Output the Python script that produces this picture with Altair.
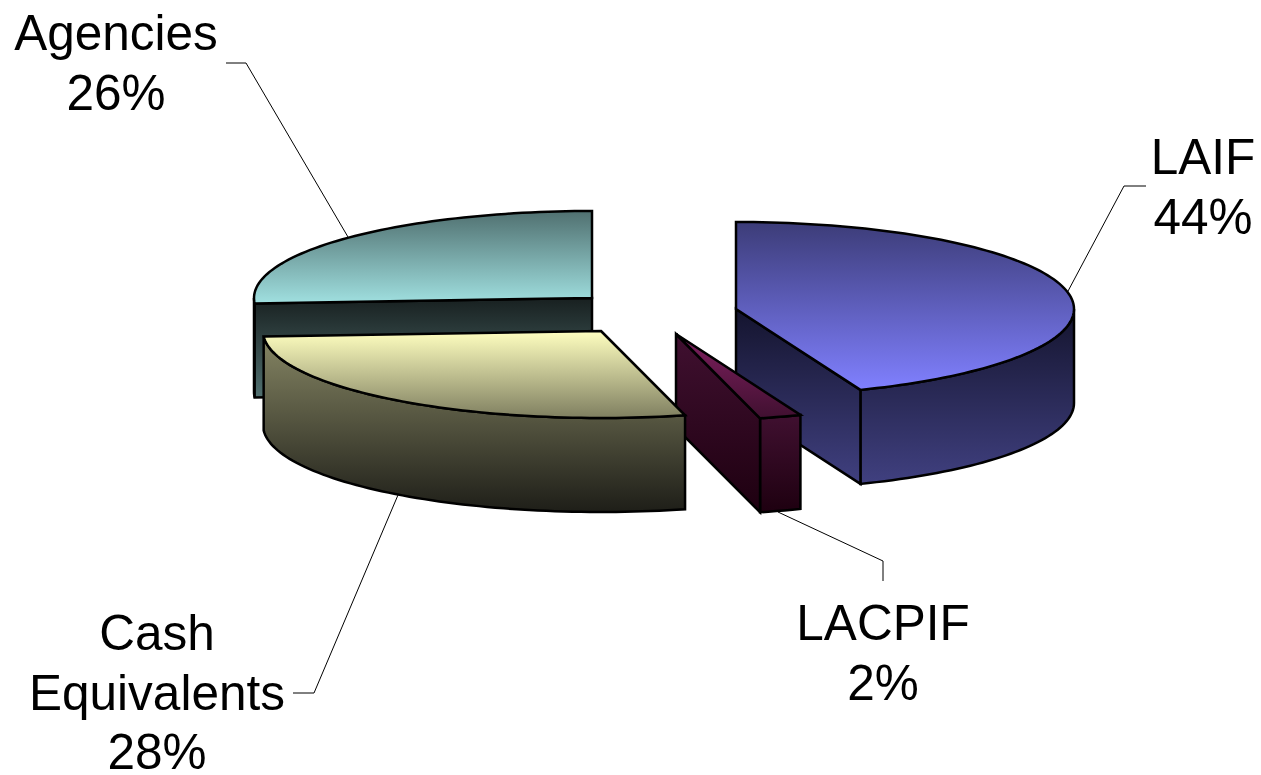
import math
import altair as alt
import pandas as pd

# Portfolio composition, in drawing order (back to front comes from DRAW_ORDER)
categories = ["LAIF", "LACPIF", "Cash Equivalents", "Agencies"]
shares = [44, 2, 28, 26]
label_lines = [["LAIF"], ["LACPIF"], ["Cash", "Equivalents"], ["Agencies"]]

# Pixel canvas and the squashed-ellipse projection of the pie
W, H = 1261, 775
RX, RY, DEPTH = 338, 87, 94
CENTRES = {
    "LAIF": (736, 309),
    "LACPIF": (676, 334),
    "Cash Equivalents": (601, 331),
    "Agencies": (592, 298),
}
DRAW_ORDER = ["Agencies", "LAIF", "LACPIF", "Cash Equivalents"]

# (top, top-lower, side-upper, side-lower) shading of each slice
SHADES = {
    "LAIF": ("#3c3c78", "#8080ff", "#14142e", "#404080"),
    "LACPIF": ("#802060", "#401030", "#401030", "#1e0010"),
    "Cash Equivalents": ("#ffffc0", "#7f7f60", "#868664", "#1e1e18"),
    "Agencies": ("#507070", "#a0e0e0", "#182020", "#507070"),
}

# Text blocks: centre x and first baseline
LABEL_POS = {
    "LAIF": (1203, 174),
    "LACPIF": (883, 640),
    "Cash Equivalents": (157, 650),
    "Agencies": (116, 50),
}
LINE_STEP = 59.7
FONT_SIZE = 49.5

# Leader lines between labels and slices
LEADERS = {
    "LAIF": [(1146, 186), (1124, 186), (1067, 293)],
    "LACPIF": [(883, 581), (883, 561), (778, 512)],
    "Cash Equivalents": [(293, 693), (314, 693), (398, 495)],
    "Agencies": [(226, 63), (246, 63), (348, 237)],
}

x_scale = alt.Scale(domain=[0, W], range=[0, W], nice=False, zero=False)
y_scale = alt.Scale(domain=[0, H], range=[0, H], nice=False, zero=False)


def gradient(top, bottom):
    return alt.LinearGradient(
        gradient="linear", x1=0, y1=0, x2=0, y2=1,
        stops=[alt.GradientStop(offset=0, color=top),
               alt.GradientStop(offset=1, color=bottom)],
    )


def point_on_rim(centre, angle, drop=0):
    a = math.radians(angle)
    return centre[0] + RX * math.sin(a), centre[1] - RY * math.cos(a) + drop


def arc(centre, start, end, drop=0):
    steps = max(2, int(abs(end - start) / 1.5) + 1)
    return [point_on_rim(centre, start + (end - start) * i / steps, drop) for i in range(steps + 1)]


def polygon(points, top, bottom, width=2.5):
    df = pd.DataFrame({"x": [p[0] for p in points], "y": [p[1] for p in points],
                       "i": list(range(len(points)))})
    return alt.Chart(df).mark_line(
        interpolate="linear-closed", fill=gradient(top, bottom), stroke="black",
        strokeWidth=width, strokeJoin="miter",
    ).encode(
        x=alt.X("x:Q", scale=x_scale, axis=None),
        y=alt.Y("y:Q", scale=y_scale, axis=None),
        order="i:Q",
    )


# Slice angles accumulate clockwise from twelve o'clock
spans = {}
running = 0
for name, share in zip(categories, shares):
    spans[name] = (running * 3.6, (running + share) * 3.6)
    running += share

layers = []

for name in categories:
    pts = LEADERS[name]
    layers.append(
        alt.Chart(pd.DataFrame({"x": [p[0] for p in pts], "y": [p[1] for p in pts],
                                "i": list(range(len(pts)))}))
        .mark_line(color="black", strokeWidth=1)
        .encode(x=alt.X("x:Q", scale=x_scale, axis=None),
                y=alt.Y("y:Q", scale=y_scale, axis=None),
                order="i:Q")
    )

for name in DRAW_ORDER:
    c = CENTRES[name]
    t0, t1 = spans[name]
    top_hi, top_lo, side_hi, side_lo = SHADES[name]

    # Outer wall, only the part facing the viewer
    a, b = max(t0, 90), min(t1, 270)
    if b > a:
        layers.append(polygon(arc(c, a, b) + arc(c, b, a, DEPTH), side_hi, side_lo))

    # Cut face, visible when the radial edge turns toward the viewer
    for edge, visible in ((t1, 90 < t1 < 180), (t0, 180 < t0 < 270)):
        if visible:
            e = point_on_rim(c, edge)
            e2 = point_on_rim(c, edge, DEPTH)
            wall = [c, e, e2, (c[0], c[1] + DEPTH)]
            layers.append(polygon(wall, side_hi, side_lo))

    # Top face
    layers.append(polygon([c] + arc(c, t0, t1), top_hi, top_lo))

# Category and percentage text
rows = []
for name, share, lines in zip(categories, shares, label_lines):
    cx, base = LABEL_POS[name]
    for k, line in enumerate(lines + [f"{share}%"]):
        rows.append({"x": cx, "y": base + k * LINE_STEP, "t": line})

layers.append(
    alt.Chart(pd.DataFrame(rows))
    .mark_text(font="Liberation Sans", fontSize=FONT_SIZE, color="black",
               align="center", baseline="alphabetic")
    .encode(x=alt.X("x:Q", scale=x_scale, axis=None),
            y=alt.Y("y:Q", scale=y_scale, axis=None),
            text="t:N")
)

chart = (
    alt.layer(*layers)
    .properties(width=W, height=H, padding=0, autosize=alt.AutoSizeParams(type="none"),
                background="white")
    .configure_view(stroke=None)
)

chart.save("out.html", embed_options={"renderer": "svg", "actions": False})
